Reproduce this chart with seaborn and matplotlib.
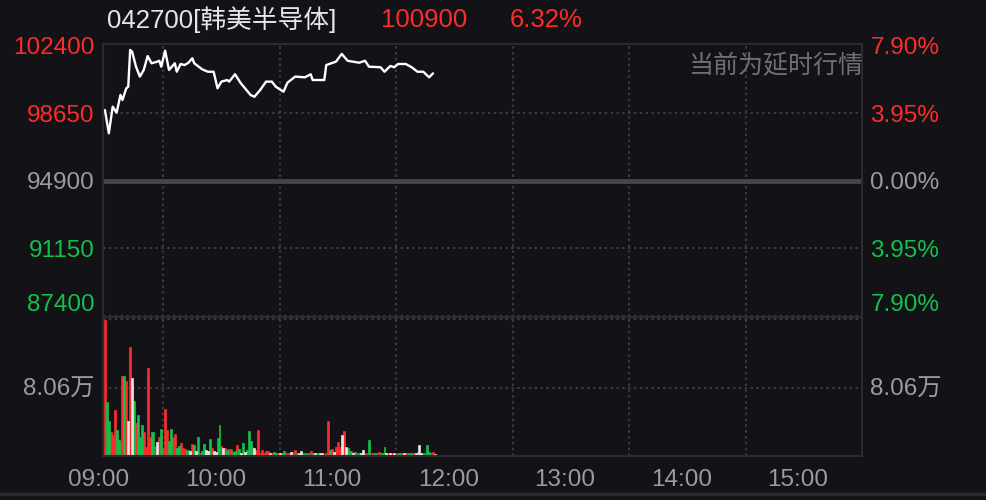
import matplotlib
matplotlib.use("Agg")
import matplotlib.pyplot as plt
import matplotlib.transforms as mtransforms
from matplotlib.lines import Line2D
import pandas as pd
import seaborn as sns

# price line, minutes after 09:00
price_minute = [0, 2, 4, 6, 8, 9, 11, 12, 13, 14, 16, 18, 20, 22, 24, 27, 28, 29, 31, 33,
                36, 37, 39, 41, 43, 45, 46, 50, 53, 56, 58, 60, 63, 64, 67, 70, 75, 77, 80, 83,
                86, 88, 92, 94, 98, 103, 106, 107, 113, 114, 119, 122, 125, 131, 134, 136, 142,
                144, 147, 149, 151, 155, 158, 161, 164, 167, 169]
price = [98840, 97550, 99030, 98695, 99680, 99400, 100050, 100140, 102180, 102080,
         101250, 100700, 101070, 101840, 101440, 101530, 101580, 101250, 102140, 101070,
         101440, 100970, 101400, 101340, 101470, 101720, 101440, 101110, 100970, 100970,
         100050, 100420, 100510, 100420, 100830, 100330, 99680, 99580, 99960, 100420,
         100420, 100140, 99860, 100360, 100700, 100660, 100830, 100510, 100510, 101340,
         101530, 101960, 101580, 101470, 101580, 101250, 101220, 100970, 101290, 101220,
         101400, 101400, 101220, 100970, 100970, 100660, 100880]

# volume per minute (万 shares)
volume = [16.0, 6.4, 4.1, 2.8, 2.5, 5.4, 3.1, 1.9, 1.6, 9.4,
          9.4, 8.9, 4.1, 12.9, 9.2, 6.5, 3.9, 4.8, 2.2, 3.7,
          2.8, 1.1, 10.4, 2.2, 2.8, 2.8, 1.2, 1.6, 2.2, 3.2,
          0.9, 5.5, 3.1, 1.8, 3.2, 2.2, 2.6, 0.9, 1.2, 1.5,
          0.9, 0.8, 0.6, 0.7, 0.6, 1.4, 1.3, 0.6, 2.3, 0.4,
          0.6, 1.4, 0.7, 0.6, 2.0, 0.9, 0.6, 0.5, 2.1, 3.7,
          1.2, 0.9, 1.0, 0.7, 0.8, 0.8, 0.5, 0.6, 1.3, 0.8,
          0.4, 1.5, 0.5, 0.7, 3.0, 1.8, 1.1, 0.9, 0.7, 3.1,
          0.3, 0.7, 0.4, 0.6, 0.6, 0.4, 0.4, 0.5, 0.4, 0.3,
          0.4, 0.3, 0.6, 0.3, 0.3, 0.4, 0.5, 0.5, 0.7, 0.4,
          0.3, 0.6, 0.3, 0.3, 0.4, 0.4, 0.6, 0.4, 0.3, 0.3,
          0.2, 0.4, 0.3, 0.2, 0.4, 4.1, 0.7, 0.8, 0.5, 1.1,
          1.6, 1.1, 2.5, 2.9, 1.1, 1.0, 0.6, 0.6, 0.3, 0.5,
          0.3, 0.4, 0.3, 0.7, 0.3, 0.4, 1.9, 0.4, 0.3, 0.4,
          0.3, 0.5, 0.4, 0.4, 1.1, 0.3, 0.4, 0.3, 0.4, 0.3,
          0.2, 0.4, 0.3, 0.3, 0.4, 0.3, 0.4, 0.4, 0.4, 0.4,
          0.3, 0.5, 1.3, 0.3, 0.4, 0.3, 1.3, 0.5, 0.4, 0.5,
          0.2]
# r = up, g = down, w = flat
volume_dir = ("r g g r r r g g r r g r w r w g r g g g "
              "r r r r g g r w r g r r r g g r r g g r "
              "r r g g w r g w g r g g w w g r w w g g "
              "r w r g r r g g r g w g w g g g r w r r "
              "r r r r r w r g g r w g g r r r w r r g "
              "w w g r g r r g w g r w w r r r g r w r "
              "r r w r w g g r w g r g w w r r g r r g "
              "r r g g g w r w r w r g g r w r g g g r "
              "w g w w g r g g r r w").split()

price_ticks = [87400, 91150, 94900, 98650, 102400]
price_labels = ["87400", "91150", "94900", "98650", "102400"]
pct_labels = ["7.90%", "3.95%", "0.00%", "3.95%", "7.90%"]
time_ticks = [0, 60, 120, 180, 240, 300, 360]
time_labels = ["09:00", "10:00", "11:00", "12:00", "13:00", "14:00", "15:00"]
vol_tick = 8.06
vol_label = "8.06万"

BG = "#131317"
RED = "#fe2b2b"
GREEN = "#12c04c"
WHITE = "#e6e6e6"
GRAY = "#9c9c9c"
GRID = "#3a3a3e"
FRAME = "#2c2c30"

sns.set_theme(style="dark", rc={"axes.facecolor": BG, "figure.facecolor": BG})
plt.rcParams["font.family"] = ["Liberation Sans", "Noto Sans CJK SC", "DejaVu Sans"]

fig = plt.figure(figsize=(9.86, 5.0), dpi=100)
left, width = 103 / 986, 759 / 986
ax = fig.add_axes([left, 1 - 317 / 500, width, 273 / 500])
axv = fig.add_axes([left, 1 - 456 / 500, width, 139 / 500])

dots = (0, (1.2, 1.6))
FS = 17.5

# price panel
price_df = pd.DataFrame({"minute": price_minute, "price": price})
sns.lineplot(data=price_df, x="minute", y="price", color="white", linewidth=1.7, ax=ax)
ax.set_xlim(-1, 390)
ax.set_ylim(87344, 102511)
ax.axhline(94900, color="#464649", linewidth=3.5, zorder=1)
for y in [87400, 91150, 98650]:
    ax.axhline(y, color=GRID, linewidth=1.5, linestyle=dots, zorder=0)

# volume panel
vol_df = pd.DataFrame({"minute": range(len(volume)), "volume": volume, "dir": volume_dir})
sns.barplot(data=vol_df, x="minute", y="volume", hue="dir", native_scale=True,
            palette={"r": RED, "g": GREEN, "w": WHITE}, dodge=False, width=1.0,
            saturation=1, errorbar=None, legend=False, ax=axv)
for p in axv.patches:
    p.set_edgecolor(p.get_facecolor())
    p.set_linewidth(0.5)
axv.set_xlim(-1, 390)
axv.set_ylim(0, 16.4)
for y in [8.06, 16.12]:
    axv.axhline(y, color=GRID, linewidth=1.5, linestyle=dots, zorder=0)

for a in (ax, axv):
    for m in [30, 90, 150, 210, 270, 330]:
        a.axvline(m, color=GRID, linewidth=1.5, linestyle=dots, zorder=0)
    for s in a.spines.values():
        s.set_color(FRAME)
        s.set_linewidth(1.5)
    a.set_xlabel("")
    a.set_ylabel("")
    a.tick_params(length=0)

# left price labels
ax.set_xticks([])
ax.set_yticks(price_ticks, price_labels)
ax.tick_params(axis="y", labelsize=FS, pad=6)
tick_colors = [GREEN, GREEN, GRAY, RED, RED]
for lab, c in zip(ax.get_yticklabels(), tick_colors):
    lab.set_color(c)
ax.get_yticklabels()[0].set_verticalalignment("bottom")

# right percentage labels
axr = ax.twinx()
axr.set_ylim(ax.get_ylim())
axr.set_yticks(price_ticks, pct_labels)
axr.tick_params(axis="y", labelsize=FS, pad=6, length=0)
for lab, c in zip(axr.get_yticklabels(), tick_colors):
    lab.set_color(c)
axr.get_yticklabels()[0].set_verticalalignment("bottom")
for s in axr.spines.values():
    s.set_visible(False)

# volume labels
axv.set_yticks([vol_tick], [vol_label])
axv.tick_params(axis="y", labelsize=FS, labelcolor=GRAY, pad=6)
axvr = axv.twinx()
axvr.set_ylim(axv.get_ylim())
axvr.set_yticks([vol_tick], [vol_label])
axvr.tick_params(axis="y", labelsize=FS, labelcolor=GRAY, pad=6, length=0)
for s in axvr.spines.values():
    s.set_visible(False)

axv.set_xticks(time_ticks, time_labels)
axv.tick_params(axis="x", labelsize=FS, labelcolor=GRAY, pad=9)
shift = mtransforms.ScaledTranslation(-6 / 100, 0, fig.dpi_scale_trans)
for lab in axv.get_xticklabels():
    lab.set_transform(lab.get_transform() + shift)

# header
fig.text(107 / 986, 1 - 20 / 500, "042700[韩美半导体]", color=WHITE, fontsize=18.5, va="center")
fig.text(381 / 986, 1 - 20 / 500, "100900", color=RED, fontsize=18.5, va="center")
fig.text(510 / 986, 1 - 20 / 500, "6.32%", color=RED, fontsize=18.5, va="center")
fig.text(863 / 986, 1 - 66 / 500, "当前为延时行情", color="#707072", fontsize=18,
         va="center", ha="right", family=["Noto Sans CJK SC", "DejaVu Sans"])

fig.add_artist(Line2D([0, 1], [1 - 494 / 500] * 2, color="#2a2a2e", linewidth=2.5,
                      transform=fig.transFigure))

fig.savefig("out.png", dpi=100, facecolor=BG)
